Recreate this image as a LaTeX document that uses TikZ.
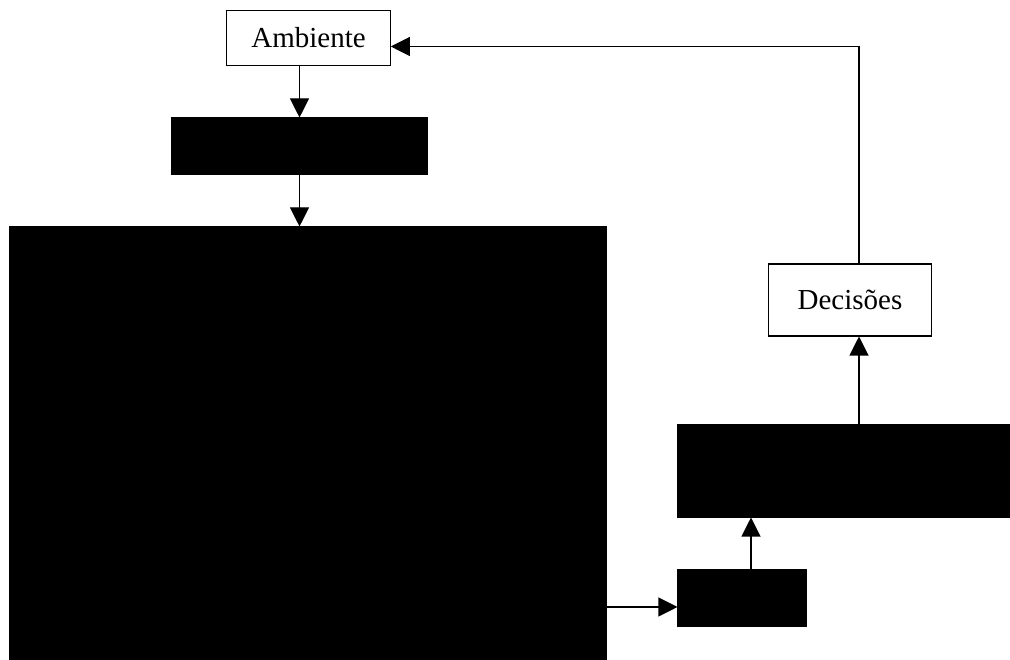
\documentclass[tikz,border=0pt]{standalone}
\usepackage{fontspec}
\setmainfont{Liberation Serif}
\usetikzlibrary{arrows.meta}
\begin{document}
\begin{tikzpicture}[
    whitebox/.style={draw, line width=0.6pt, fill=white, minimum width=#1, inner sep=0pt,
        font=\fontsize{16.5}{20}\selectfont},
    blackbox/.style={draw, line width=0.6pt, fill=black, inner sep=0pt},
    arr/.style={line width=0.6pt, -{Triangle[length=0.38cm, width=0.38cm]}}
]
    % Fix the page size
    \useasboundingbox (0,0) rectangle (20.2,13.2);

    % Draw the boxes
    \node[whitebox=3.27cm, minimum height=1.09cm] (amb) at (6.17,12.44) {Ambiente};
    \node[blackbox, minimum width=5.10cm, minimum height=1.12cm] (blk1) at (5.99,10.28) {};
    \node[blackbox, minimum width=11.95cm, minimum height=8.66cm] (big) at (6.16,4.33) {};
    \node[blackbox, minimum width=2.56cm, minimum height=1.12cm] (small) at (14.84,1.24) {};
    \node[blackbox, minimum width=6.64cm, minimum height=1.84cm] (box3) at (16.88,3.78) {};
    \node[whitebox=3.26cm, minimum height=1.44cm] (dec) at (17.0,7.2) {Decisões};

    % Draw the arrows
    \coordinate (feed) at (0,1.06);
    \draw[arr] (blk1 |- amb.south) -- (blk1.north);
    \draw[arr] (blk1.south) -- (blk1 |- big.north);
    \draw[arr] (big.east |- feed) -- (small.west |- feed);
    \draw[arr] ([xshift=0.18cm]small.north) -- ([xshift=0.18cm]small.north |- box3.south);
    \draw[arr] ([xshift=0.18cm]dec.south |- box3.north) -- ([xshift=0.18cm]dec.south);
    \draw[arr] ([xshift=0.18cm]dec.north) |- ([yshift=-0.17cm]amb.east);
\end{tikzpicture}
\end{document}
